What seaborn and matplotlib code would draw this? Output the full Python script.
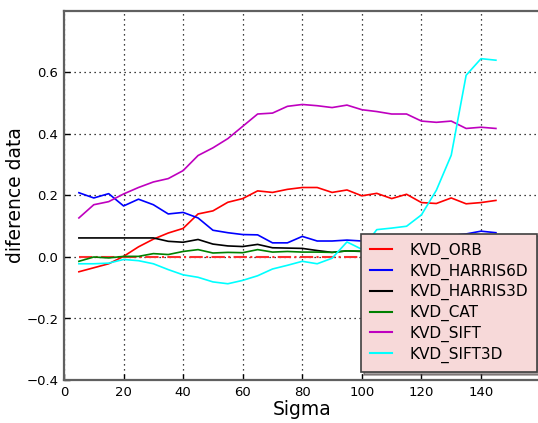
import numpy as np
import pandas as pd
import matplotlib
matplotlib.use("Agg")
import matplotlib.pyplot as plt
import seaborn as sns

sigma = [5, 10, 15, 20, 25, 30, 35, 40, 45, 50, 55, 60, 65, 70, 75,
         80, 85, 90, 95, 100, 105, 110, 115, 120, 125, 130, 135, 140, 145]

kvd_orb = [-0.048, -0.035, -0.022, 0.002, 0.033, 0.058, 0.078, 0.093, 0.140, 0.150,
           0.178, 0.190, 0.215, 0.210, 0.220, 0.226, 0.226, 0.210, 0.218, 0.199,
           0.207, 0.190, 0.204, 0.177, 0.174, 0.192, 0.173, 0.177, 0.184]
kvd_harris6d = [0.209, 0.192, 0.206, 0.166, 0.188, 0.170, 0.140, 0.145, 0.127, 0.087,
                0.079, 0.073, 0.072, 0.046, 0.046, 0.067, 0.052, 0.052, 0.055, 0.052,
                0.050, 0.052, 0.056, 0.060, 0.065, 0.070, 0.075, 0.084, 0.079]
kvd_harris3d = [0.062, 0.062, 0.062, 0.062, 0.062, 0.062, 0.051, 0.048, 0.057, 0.042,
                0.036, 0.034, 0.041, 0.030, 0.029, 0.028, 0.021, 0.015, 0.020, 0.018,
                0.018, 0.018, 0.019, 0.019, 0.020, 0.020, 0.021, 0.021, 0.021]
kvd_cat = [-0.014, 0.000, -0.003, 0.002, 0.002, 0.011, 0.008, 0.018, 0.024, 0.013,
           0.015, 0.014, 0.024, 0.016, 0.018, 0.016, 0.016, 0.015, 0.020, 0.019,
           0.018, 0.018, 0.018, 0.018, 0.018, 0.018, 0.018, 0.018, 0.018]
kvd_sift = [0.127, 0.170, 0.180, 0.205, 0.226, 0.244, 0.255, 0.281, 0.330, 0.355,
            0.385, 0.425, 0.465, 0.468, 0.490, 0.496, 0.492, 0.486, 0.494, 0.479,
            0.473, 0.465, 0.465, 0.442, 0.438, 0.442, 0.418, 0.422, 0.418]
kvd_sift3d = [-0.022, -0.022, -0.020, -0.008, -0.012, -0.022, -0.041, -0.058, -0.066, -0.081,
              -0.087, -0.076, -0.061, -0.039, -0.027, -0.014, -0.022, -0.004, 0.049, 0.025,
              0.089, 0.094, 0.100, 0.137, 0.217, 0.331, 0.591, 0.645, 0.640]
zero_line = [0.0] * len(sigma)

labels = ["KVD_ORB", "KVD_HARRIS6D", "KVD_HARRIS3D", "KVD_CAT", "KVD_SIFT", "KVD_SIFT3D"]
colors = ["#ff0000", "#0000ff", "#000000", "#008000", "#bf00bf", "#00ffff"]
xticks = [0, 20, 40, 60, 80, 100, 120, 140]
yticks = [-0.4, -0.2, 0.0, 0.2, 0.4, 0.6]

series = [kvd_orb, kvd_harris6d, kvd_harris3d, kvd_cat, kvd_sift, kvd_sift3d]
df = pd.concat([pd.DataFrame({"sigma": sigma, "value": s, "method": lab})
                for s, lab in zip(series, labels)], ignore_index=True)
zdf = pd.DataFrame({"sigma": sigma, "value": zero_line})

W, H = 538, 423
fig = plt.figure(figsize=(W / 100, H / 100), dpi=100)
ax_left, ax_right, ax_top, ax_bottom = 64, 540.6, 11, 380
ax = fig.add_axes([ax_left / W, 1 - ax_bottom / H, (ax_right - ax_left) / W, (ax_bottom - ax_top) / H])

sns.lineplot(data=zdf, x="sigma", y="value", color="#ff3030", linestyle="-.",
             linewidth=1.5, ax=ax, legend=False, zorder=2)
sns.lineplot(data=df, x="sigma", y="value", hue="method", hue_order=labels,
             palette=dict(zip(labels, colors)), linewidth=1.2, ax=ax, zorder=3)

ax.set_xlim(0, 160)
ax.set_ylim(-0.4, 0.8)
ax.set_xticks(xticks)
ax.set_yticks(yticks)
ax.set_yticklabels(["\u22120.4", "\u22120.2", "0.0", "0.2", "0.4", "0.6"])
ax.tick_params(direction="in", labelsize=9.5, length=4, width=1, colors="#000000", pad=4)
ax.grid(True, linestyle=(0, (1, 3)), color="#000000", linewidth=0.9)
ax.set_axisbelow(True)
for sp in ax.spines.values():
    sp.set_color("#606060")
    sp.set_linewidth(1.6)

ax.set_xlabel("Sigma", fontsize=13.5, labelpad=1)
ax.set_ylabel("diference data", fontsize=13.5, labelpad=1)

handles, lbls = ax.get_legend_handles_labels()
for h in handles:
    h.set_linewidth(1.5)
leg = ax.legend(handles, lbls, loc="lower right", bbox_to_anchor=(0.9925, 0.0217),
                borderaxespad=0, fontsize=11, frameon=True, fancybox=False, shadow=True,
                facecolor="#f7d9d9", edgecolor="#404040", framealpha=1.0,
                handlelength=1.45, handletextpad=1.1, labelspacing=0.3, borderpad=0.6)
leg.get_frame().set_linewidth(1.2)
leg.set_zorder(10)

fig.savefig("out.png", dpi=100)
